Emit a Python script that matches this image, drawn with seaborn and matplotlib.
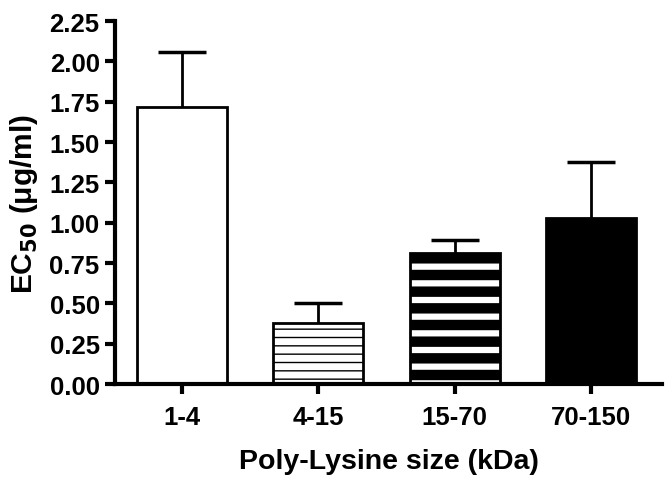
import matplotlib
matplotlib.use("Agg")
import matplotlib.pyplot as plt
import seaborn as sns
import pandas as pd

categories = ["1-4", "4-15", "15-70", "70-150"]
ec50 = [1.72, 0.38, 0.815, 1.03]
err = [0.34, 0.12, 0.075, 0.345]
yticks = [0.00, 0.25, 0.50, 0.75, 1.00, 1.25, 1.50, 1.75, 2.00, 2.25]

sns.set_theme(style="ticks")
plt.rcParams["font.family"] = ["Liberation Sans", "DejaVu Sans"]
plt.rcParams["font.weight"] = "bold"
plt.rcParams["mathtext.default"] = "bf"
plt.rcParams["text.color"] = "black"
plt.rcParams["axes.labelcolor"] = "black"

df = pd.DataFrame({"size": categories, "ec50": ec50})

fig = plt.figure(figsize=(6.66, 4.85), dpi=100)
ax = fig.add_axes([0.1727, 0.206, 0.994 - 0.1727, 0.9546 - 0.206])

sns.barplot(data=df, x="size", y="ec50", order=categories, color="white",
            edgecolor="black", linewidth=2.0, width=0.66, errorbar=None, ax=ax)

faces = ["white", "white", "white", "black"]
hatches = [None, "--", "-", None]
hlw = [1.0, 1.0, 7.5, 1.0]
for p, fc, h, lw in zip(ax.patches, faces, hatches, hlw):
    p.set_facecolor(fc)
    p.set_edgecolor("black")
    if h:
        p.set_hatch(h)
        if hasattr(p, "set_hatch_linewidth"):
            p.set_hatch_linewidth(lw)

cont = ax.errorbar(x=range(len(categories)), y=ec50, yerr=[[0] * len(err), err],
                   fmt="none", ecolor="black", elinewidth=2.0, capsize=17,
                   capthick=2.5, zorder=1)
caps = cont.lines[1]
if len(caps) == 2:
    caps[0].set_visible(False)

ax.set_ylim(0, 2.25)
ax.set_xlim(-0.49, 3.52)
ax.set_yticks(yticks)
ax.set_yticklabels([f"{v:.2f}" for v in yticks])
for s in ["top", "right"]:
    ax.spines[s].set_visible(False)
for s in ["left", "bottom"]:
    ax.spines[s].set_linewidth(3.0)
    ax.spines[s].set_color("black")
ax.tick_params(axis="both", width=3.0, length=7, color="black",
               labelsize=18.5, labelcolor="black", pad=4)
ax.tick_params(axis="x", pad=8)
for lab in ax.get_xticklabels() + ax.get_yticklabels():
    lab.set_fontweight("bold")

ax.set_xlabel("Poly-Lysine size (kDa)", fontsize=20.5, fontweight="bold",
              labelpad=14, color="black")
ax.set_ylabel("EC$_{50}$ (\u03bcg/ml)", fontsize=21.5, fontweight="bold",
              labelpad=7, color="black")

fig.savefig("out.png", dpi=100, facecolor="white")
